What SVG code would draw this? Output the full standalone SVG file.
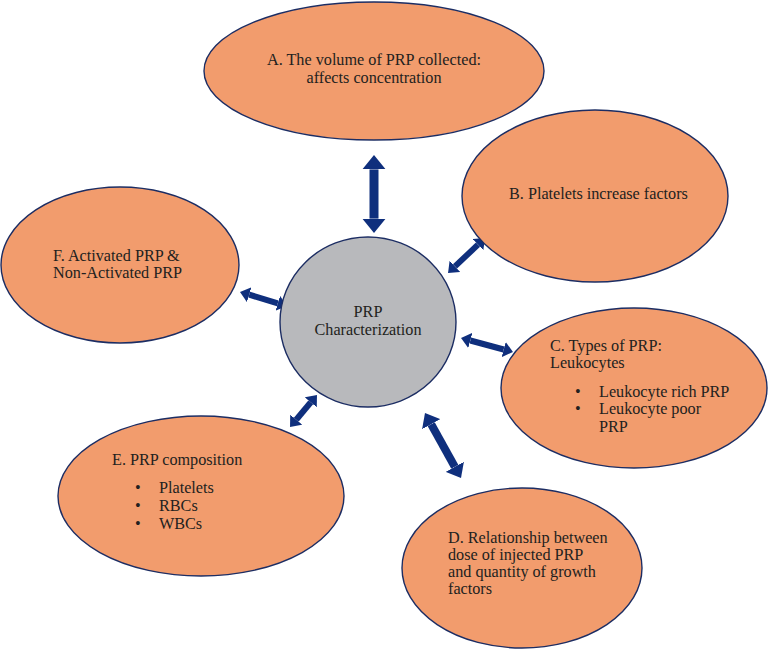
<svg xmlns="http://www.w3.org/2000/svg" width="769" height="650" viewBox="0 0 769 650">
<style>
.node ellipse{fill:#f29c6d;stroke:#1c2d63;stroke-width:1.4}
.center ellipse{fill:#b8b9bc;stroke:#1c2d63;stroke-width:1.4}
text{font-family:"Liberation Serif","DejaVu Serif",serif;font-size:16.2px;fill:#231f20}
.mid{text-anchor:middle}
.conn line{stroke:#0f2f7d;fill:none}
</style>
<defs>
<marker id="ah" viewBox="0 0 1.6 2.6" markerWidth="1.6" markerHeight="2.6" refX="0" refY="1.3" orient="auto-start-reverse" markerUnits="strokeWidth">
<path d="M0,0 L1.6,1.3 L0,2.6 Z" fill="#0f2f7d"/>
</marker>
</defs>
<rect width="769" height="650" fill="#ffffff"/>
<g id="connectors" class="conn">
<line x1="374" y1="169.4" x2="374" y2="218.6" stroke-width="9" marker-start="url(#ah)" marker-end="url(#ah)"/>
<line x1="455" y1="266.4" x2="478" y2="244.6" stroke-width="6" marker-start="url(#ah)" marker-end="url(#ah)"/>
<line x1="470.3" y1="340.5" x2="503.7" y2="349.5" stroke-width="6" marker-start="url(#ah)" marker-end="url(#ah)"/>
<line x1="249.2" y1="294.7" x2="277.8" y2="303.3" stroke-width="6" marker-start="url(#ah)" marker-end="url(#ah)"/>
<line x1="296.2" y1="419.7" x2="310.8" y2="402.3" stroke-width="6" marker-start="url(#ah)" marker-end="url(#ah)"/>
<line x1="431.2" y1="424.2" x2="454.8" y2="466.8" stroke-width="8" marker-start="url(#ah)" marker-end="url(#ah)"/>
</g>
<g id="nodeA" class="node">
<ellipse cx="374" cy="71" rx="170" ry="69"/>
<text class="mid" x="374" y="65">A. The volume of PRP collected:</text>
<text class="mid" x="374" y="83">affects concentration</text>
</g>
<g id="nodeB" class="node">
<ellipse cx="595" cy="196" rx="133" ry="86"/>
<text x="509" y="199">B. Platelets increase factors</text>
</g>
<g id="nodeC" class="node">
<ellipse cx="634" cy="388" rx="133" ry="80"/>
<text x="550" y="351">C. Types of PRP:</text>
<text x="550" y="368">Leukocytes</text>
<text x="575" y="397">•</text>
<text x="599" y="397">Leukocyte rich PRP</text>
<text x="575" y="414">•</text>
<text x="599" y="414">Leukocyte poor</text>
<text x="599" y="432">PRP</text>
</g>
<g id="nodeD" class="node">
<ellipse cx="522" cy="568" rx="120" ry="80"/>
<text x="448" y="543">D. Relationship between</text>
<text x="448" y="560">dose of injected PRP</text>
<text x="448" y="577">and quantity of growth</text>
<text x="448" y="594">factors</text>
</g>
<g id="nodeE" class="node">
<ellipse cx="201" cy="496" rx="143" ry="80"/>
<text x="112" y="465">E. PRP composition</text>
<text x="135" y="493">•</text>
<text x="159" y="493">Platelets</text>
<text x="135" y="511">•</text>
<text x="159" y="511">RBCs</text>
<text x="135" y="529">•</text>
<text x="159" y="529">WBCs</text>
</g>
<g id="nodeF" class="node">
<ellipse cx="120" cy="265" rx="119" ry="78"/>
<text x="53" y="261">F. Activated PRP &amp;</text>
<text x="53" y="278">Non-Activated PRP</text>
</g>
<g id="center" class="center">
<ellipse cx="368" cy="322" rx="88" ry="85"/>
<text class="mid" x="368" y="317">PRP</text>
<text class="mid" x="368" y="335">Characterization</text>
</g>
</svg>
